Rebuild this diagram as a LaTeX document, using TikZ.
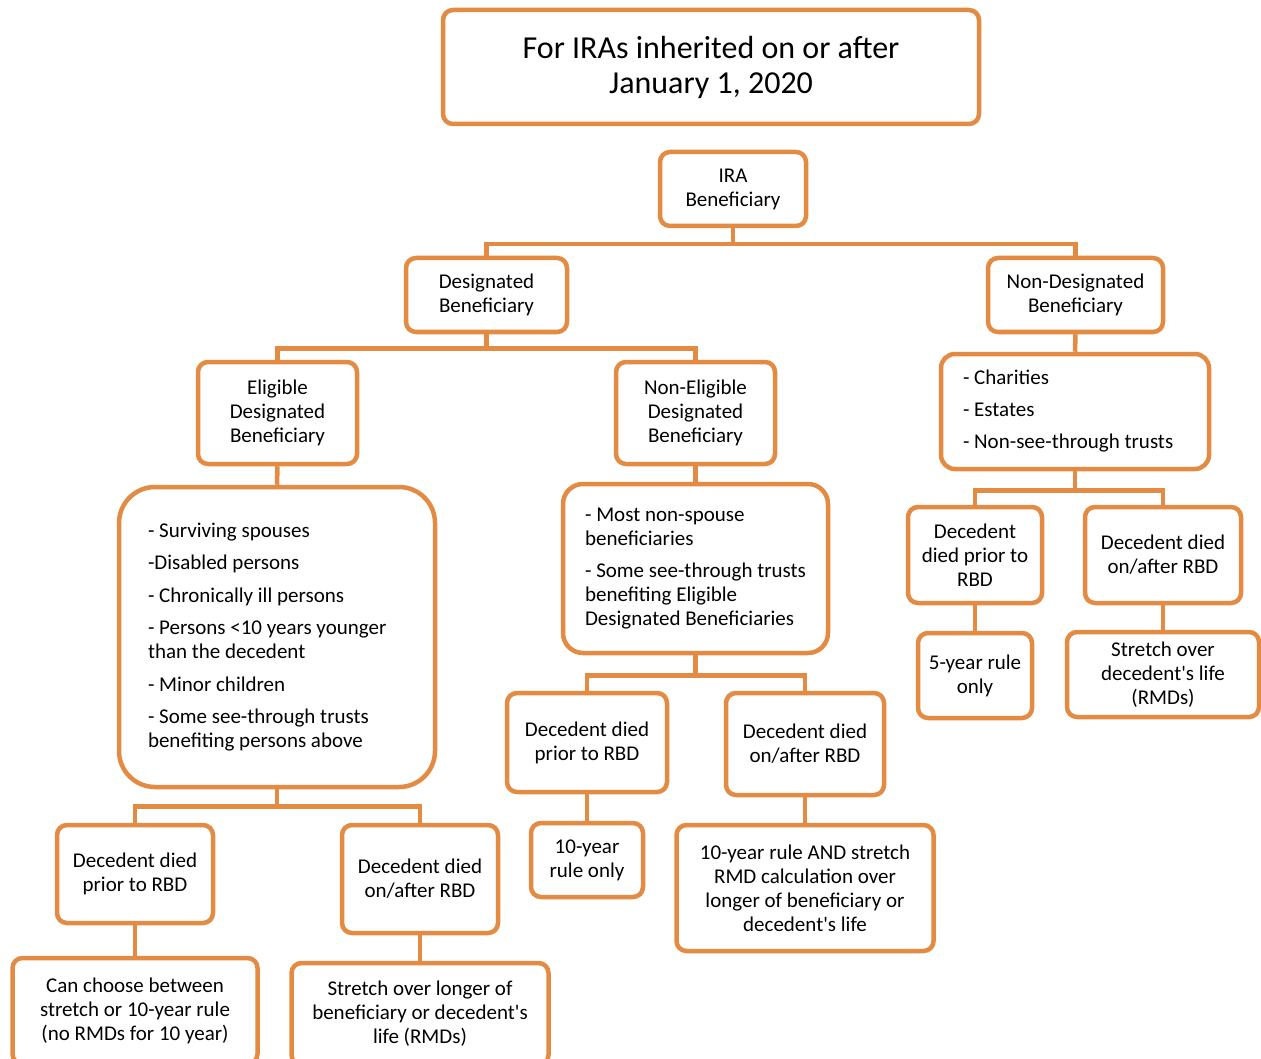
\documentclass[tikz,border=0pt]{standalone}
\usepackage{fontspec}
\setmainfont{Carlito}
\definecolor{iraorange}{RGB}{227,139,66}
\tikzset{
  rulebox/.style={draw=iraorange, line width=4.5pt, rounded corners=10pt, fill=white,
    align=center, inner sep=0pt, font=\fontsize{21}{24}\selectfont},
  listbox/.style={rulebox, align=flush left},
  link/.style={draw=iraorange, line width=4.5pt},
  sz/.style 2 args={minimum width=#1pt, minimum height=#2pt}
}

\begin{document}
\begin{tikzpicture}[x=1pt, y=-1pt]
    \useasboundingbox (0,0) rectangle (1261,1059);

    % 1. Title and the top of the tree
    \node[rulebox, sz={536}{114}, font=\fontsize{32}{35}\selectfont] (title) at (711,67)
        {For IRAs inherited on or after\\January 1, 2020};
    \node[rulebox, sz={146}{74}] (ira) at (733,189) {IRA\\Beneficiary};
    \node[rulebox, sz={161}{74}] (db) at (486.5,295) {Designated\\Beneficiary};
    \node[rulebox, sz={175}{74}] (ndb) at (1075.5,295) {Non-Designated\\Beneficiary};

    % 2. Eligible branch
    \node[rulebox, sz={159}{102}] (edb) at (277.5,413) {Eligible\\Designated\\Beneficiary};
    \node[listbox, sz={316}{300}, text width=258pt, rounded corners=36pt] (elist) at (277,637)
        {- Surviving spouses\\[8.5pt]
         -Disabled persons\\[8.5pt]
         - Chronically ill persons\\[8.5pt]
         - Persons <10 years younger\\than the decedent\\[8.5pt]
         - Minor children\\[8.5pt]
         - Some see-through trusts\\benefiting persons above};
    \node[rulebox, sz={156}{98}] (eprior) at (135,874) {Decedent died\\prior to RBD};
    \node[rulebox, sz={156}{108}] (eafter) at (420,879) {Decedent died\\on/after RBD};
    \node[rulebox, sz={245}{106}] (echoose) at (135,1011)
        {Can choose between\\stretch or 10-year rule\\(no RMDs for 10 year)};
    \node[rulebox, sz={257}{102}] (estretch) at (420,1014)
        {Stretch over longer of\\beneficiary or decedent\textquotesingle s\\life (RMDs)};

    % 3. Non-eligible branch
    \node[rulebox, sz={159}{102}] (nedb) at (695.5,413) {Non-Eligible\\Designated\\Beneficiary};
    \node[listbox, sz={265}{169}, rounded corners=20pt] (nelist) at (695.5,568.5)
        {- Most non-spouse\\beneficiaries\\[8.5pt]
         - Some see-through trusts\\benefiting Eligible\\Designated Beneficiaries};
    \node[rulebox, sz={160}{99}] (neprior) at (587,742.5) {Decedent died\\prior to RBD};
    \node[rulebox, sz={158}{102}] (neafter) at (805,744) {Decedent died\\on/after RBD};
    \node[rulebox, sz={112}{74}] (neten) at (587,860) {10-year\\rule only};
    \node[rulebox, sz={257}{126}] (nestretch) at (805,888)
        {10-year rule AND stretch\\RMD calculation over\\longer of beneficiary or\\decedent\textquotesingle s life};

    % 4. Non-designated branch
    \node[listbox, sz={268}{115}, text width=224pt, rounded corners=14pt] (ndblist) at (1075,411.5)
        {- Charities\\[8pt]
         - Estates\\[8pt]
         - Non-see-through trusts};
    \node[rulebox, sz={134}{96}] (ndbprior) at (975,555) {Decedent\\died prior to\\RBD};
    \node[rulebox, sz={156}{96}] (ndbafter) at (1163,555) {Decedent died\\on/after RBD};
    \node[rulebox, sz={114}{85}] (ndbfive) at (975,675.5) {5-year rule\\only};
    \node[rulebox, sz={192}{85}] (ndbstretch) at (1163,674.5)
        {Stretch over\\decedent\textquotesingle s life\\(RMDs)};

    % 5. Connectors
    \draw[link] (ira.south) -- ++(0,16) -| (db.north);
    \draw[link] (ira.south) -- ++(0,16) -| (ndb.north);
    \draw[link] (db.south) -- ++(0,14) -| (edb.north);
    \draw[link] (db.south) -- ++(0,14) -| (nedb.north);
    \draw[link] (ndb.south) -- (ndblist.north);
    \draw[link] (edb.south) -- (elist.north);
    \draw[link] (nedb.south) -- (nelist.north);
    \draw[link] (ndblist.south) -- ++(0,19) -| (ndbprior.north);
    \draw[link] (ndblist.south) -- ++(0,19) -| (ndbafter.north);
    \draw[link] (ndbprior.south) -- (ndbfive.north);
    \draw[link] (ndbafter.south) -- (ndbstretch.north);
    \draw[link] (nelist.south) -- ++(0,20) -| (neprior.north);
    \draw[link] (nelist.south) -- ++(0,20) -| (neafter.north);
    \draw[link] (neprior.south) -- (neten.north);
    \draw[link] (neafter.south) -- (nestretch.north);
    \draw[link] (elist.south) -- ++(0,17) -| (eprior.north);
    \draw[link] (elist.south) -- ++(0,17) -| (eafter.north);
    \draw[link] (eprior.south) -- (echoose.north);
    \draw[link] (eafter.south) -- (estretch.north);

\end{tikzpicture}
\end{document}
